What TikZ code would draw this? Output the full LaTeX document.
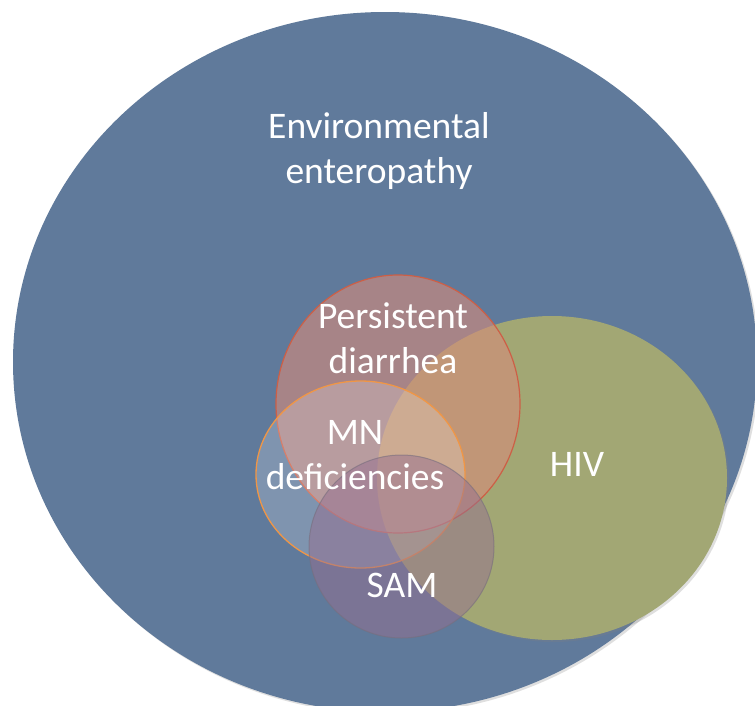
\documentclass[tikz,border=0pt]{standalone}
\usepackage{fontspec}
\setmainfont{Carlito}
\usetikzlibrary{shadows}

\definecolor{eeblue}{RGB}{96,122,155}
\definecolor{hivgreen}{RGB}{162,167,116}
\definecolor{pdred}{RGB}{215,140,122}
\definecolor{pdline}{RGB}{205,95,70}
\definecolor{mnline}{RGB}{240,150,70}
\definecolor{samfill}{RGB}{150,112,145}
\definecolor{samline}{RGB}{120,110,125}

\tikzset{
  softshadow/.style={drop shadow={shadow xshift=2pt, shadow yshift=-2pt, opacity=0.25}}
}

\begin{document}
\begin{tikzpicture}[x=1pt, y=-1pt, every node/.style={text=white, align=center, inner sep=0pt, font=\fontsize{37.5}{45}\selectfont}]
  \useasboundingbox (0,0) rectangle (755,705);
  \clip (0,0) rectangle (755,705);
  \fill[white] (0,0) rectangle (755,705);

  % sets
  \fill[eeblue, softshadow] (385,362) ellipse (372pt and 350pt);
  \fill[hivgreen, softshadow] (552,478) ellipse (175pt and 162pt);
  \filldraw[fill=pdred, fill opacity=0.6, draw=pdline, line width=1.2pt] (398,404) ellipse (122pt and 129pt);
  \filldraw[fill=white, fill opacity=0.2, draw=mnline, line width=1.3pt] (360.5,474.5) ellipse (104.5pt and 93.5pt);
  \filldraw[fill=samfill, fill opacity=0.5, draw=samline, draw opacity=0.6, line width=1pt] (401.5,546.5) ellipse (92.5pt and 91.5pt);

  % labels
  \node (ee) at (379,151) {Environmental\\enteropathy};
  \node (pd) at (393,338.5) {Persistent\\diarrhea};
  \node (mn) at (355,455) {MN\\deficiencies};
  \node (hiv) at (577,464.5) {HIV};
  \node (sam) at (402,585) {SAM};
\end{tikzpicture}
\end{document}
